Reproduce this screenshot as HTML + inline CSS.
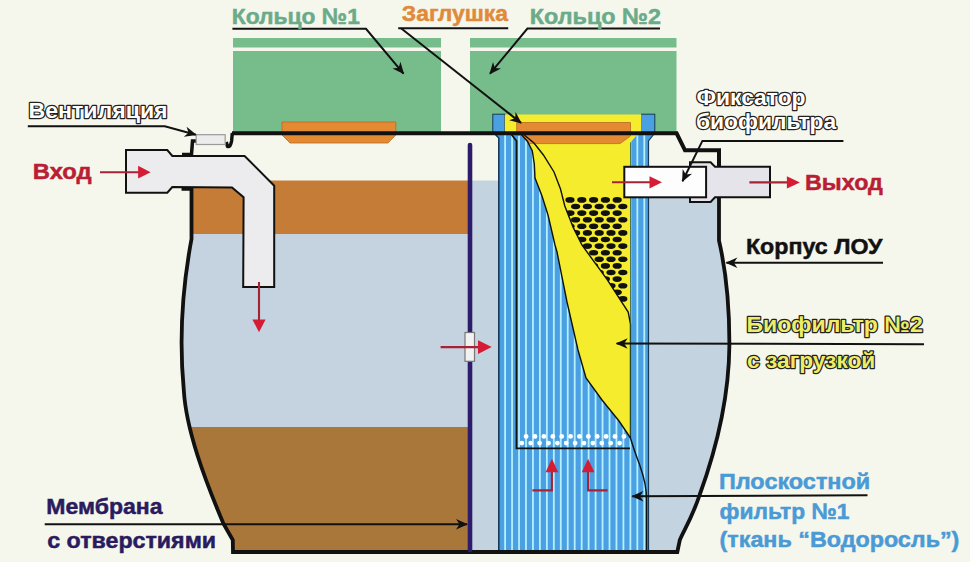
<!DOCTYPE html>
<html><head><meta charset="utf-8">
<style>
html,body{margin:0;padding:0;background:#f6f7ec;}
svg{display:block;}
text{font-family:"Liberation Sans",sans-serif;font-weight:bold;font-size:21.6px;}
</style></head>
<body>
<svg width="970" height="562" viewBox="0 0 970 562">
<defs>
  <clipPath id="tank"><path d="M232,133 L676.6,133 L685.5,150.3 L719,150.3 L719,240.6 C724,262 729.5,300 729.4,345 C729,400 716,450 699.6,495 C692,518 684,530 679.8,540 L677.3,552 L233,552 L232.8,540 L223.6,524 C205,480 186,430 183.8,390 C179,340 182,290 191.5,239 L191.5,141 L228,141 Z"/></clipPath>
  <clipPath id="dotclip"><path d="M557,180 L564.8,206 L573.3,227.6 L581.9,245 L607.2,279.6 L628.2,312 L630.5,324 L630.5,190 Z"/></clipPath>
  <marker id="ah" viewBox="-12 -6 14 12" markerWidth="14" markerHeight="12" refX="0" refY="0" orient="auto" markerUnits="userSpaceOnUse">
    <path d="M1,0 L-11,-5.2 L-7.5,0 L-11,5.2 Z" fill="#111"/>
  </marker>
</defs>
<rect x="0" y="0" width="970" height="562" fill="#f6f7ec"/>

<!-- green rings -->
<rect x="233" y="38" width="208" height="9.5" fill="#77bd8b"/>
<rect x="233" y="51" width="208" height="82" fill="#77bd8b"/>
<rect x="470" y="38" width="206.5" height="9.5" fill="#77bd8b"/>
<rect x="470" y="51" width="206.5" height="82" fill="#77bd8b"/>


<!-- interior fills -->
<g clip-path="url(#tank)">
  <rect x="150" y="130" width="600" height="430" fill="#f6f7ec"/>
  <rect x="150" y="180.5" width="320" height="53.5" fill="#c57c36"/>
  <rect x="150" y="234" width="320" height="193.5" fill="#c4d3df"/>
  <rect x="150" y="427" width="320" height="130" fill="#a9773a"/>
  <rect x="470" y="180.5" width="300" height="380" fill="#c3d3df"/>
</g>

<!-- ring1 plug -->
<path d="M282,122 L395.8,122 L395.8,135 L388,143 L290,143 L282,135 Z" fill="#e38a32" stroke="#b86a22" stroke-width="0.8"/>

<!-- blue filter -->
<path d="M494,133 L654.8,133 L648.5,141 L648.5,552 L498.8,552 L498.8,138 Z" fill="#4aa0e2"/>
<g fill="#b4f0ff">
<rect x="504.20" y="133" width="1.8" height="420"/>
<rect x="511.16" y="133" width="1.8" height="420"/>
<rect x="518.12" y="133" width="1.8" height="420"/>
<rect x="525.08" y="133" width="1.8" height="420"/>
<rect x="532.04" y="133" width="1.8" height="420"/>
<rect x="539.00" y="133" width="1.8" height="420"/>
<rect x="545.96" y="133" width="1.8" height="420"/>
<rect x="552.92" y="133" width="1.8" height="420"/>
<rect x="559.88" y="133" width="1.8" height="420"/>
<rect x="566.84" y="133" width="1.8" height="420"/>
<rect x="573.80" y="133" width="1.8" height="420"/>
<rect x="580.76" y="133" width="1.8" height="420"/>
<rect x="587.72" y="133" width="1.8" height="420"/>
<rect x="594.68" y="133" width="1.8" height="420"/>
<rect x="601.64" y="133" width="1.8" height="420"/>
<rect x="608.60" y="133" width="1.8" height="420"/>
<rect x="615.56" y="133" width="1.8" height="420"/>
<rect x="622.52" y="133" width="1.8" height="420"/>
<rect x="629.48" y="133" width="1.8" height="420"/>
<rect x="636.44" y="133" width="1.8" height="420"/>
<rect x="643.40" y="133" width="1.8" height="420"/>
</g>
<path d="M494,133 L498.8,138 L498.8,552" fill="none" stroke="#163a55" stroke-width="1.6"/>
<path d="M654.8,133 L648.5,141 L648.5,552" fill="none" stroke="#163a55" stroke-width="1.2"/>
<path d="M510.3,133 L516.5,141 L516.5,448.4 L630,448.4" fill="none" stroke="#111" stroke-width="1.8"/>

<!-- top of filter above line -->
<rect x="492.8" y="114.2" width="12" height="19" fill="#4aa0e2" stroke="#163a55" stroke-width="1"/>
<rect x="641.5" y="114.2" width="13.3" height="19" fill="#4aa0e2" stroke="#163a55" stroke-width="1"/>
<rect x="504.8" y="114.5" width="136.7" height="19" fill="#f4ec2c"/>

<!-- yellow biofilter -->
<path d="M521,134 L527.5,141.5 L532.3,151 L534.3,164 L535,178 L542,196 L548,215 L555,245 L557,252 L567,302 L578,350 L586,378 L602,400 L619,421 L630.5,438 L630.5,142.4 L638.6,133 Z" fill="#f4ec2c"/>
<!-- plug 2 -->
<path d="M516.7,122.5 L630.5,122.5 L630.5,136 L620,143.6 L529.5,143.6 L521.5,135.2 L516.7,135.2 Z" fill="#e38a32" stroke="#b86a22" stroke-width="0.8"/>
<path d="M521,134 L527.5,141.5 L532.3,151 L534.3,164 L535,178 L542,196 L548,215 L555,245 L557,252 L567,302 L578,350 L586,378 L602,400 L619,421 L630.5,438" fill="none" stroke="#111" stroke-width="1.4"/>
<path d="M523,134 L534,143 L543.4,155 L554,172 L560.5,189 L564.8,206 L573.3,227.6 L581.9,245 L607.2,279.6 L628.2,312 L630.5,324 L630.5,438 C633,447 636,455 640,466 C644,477 646.6,487 646.6,500 L646.6,552" fill="none" stroke="#111" stroke-width="1.4"/>
<path d="M630.5,142.4 L630.5,436" fill="none" stroke="#2a5a40" stroke-width="0.8"/>
<g fill="#111" clip-path="url(#dotclip)">
<ellipse cx="570.0" cy="199.9" rx="4.6" ry="2.8"/>
<ellipse cx="581.8" cy="199.9" rx="4.6" ry="2.8"/>
<ellipse cx="593.6" cy="199.9" rx="4.6" ry="2.8"/>
<ellipse cx="605.4" cy="199.9" rx="4.6" ry="2.8"/>
<ellipse cx="617.2" cy="199.9" rx="4.6" ry="2.8"/>
<ellipse cx="575.6" cy="206.5" rx="4.6" ry="2.8"/>
<ellipse cx="587.4" cy="206.5" rx="4.6" ry="2.8"/>
<ellipse cx="599.2" cy="206.5" rx="4.6" ry="2.8"/>
<ellipse cx="611.0" cy="206.5" rx="4.6" ry="2.8"/>
<ellipse cx="622.8" cy="206.5" rx="4.6" ry="2.8"/>
<ellipse cx="570.0" cy="213.1" rx="4.6" ry="2.8"/>
<ellipse cx="581.8" cy="213.1" rx="4.6" ry="2.8"/>
<ellipse cx="593.6" cy="213.1" rx="4.6" ry="2.8"/>
<ellipse cx="605.4" cy="213.1" rx="4.6" ry="2.8"/>
<ellipse cx="617.2" cy="213.1" rx="4.6" ry="2.8"/>
<ellipse cx="575.6" cy="219.7" rx="4.6" ry="2.8"/>
<ellipse cx="587.4" cy="219.7" rx="4.6" ry="2.8"/>
<ellipse cx="599.2" cy="219.7" rx="4.6" ry="2.8"/>
<ellipse cx="611.0" cy="219.7" rx="4.6" ry="2.8"/>
<ellipse cx="622.8" cy="219.7" rx="4.6" ry="2.8"/>
<ellipse cx="570.0" cy="226.3" rx="4.6" ry="2.8"/>
<ellipse cx="581.8" cy="226.3" rx="4.6" ry="2.8"/>
<ellipse cx="593.6" cy="226.3" rx="4.6" ry="2.8"/>
<ellipse cx="605.4" cy="226.3" rx="4.6" ry="2.8"/>
<ellipse cx="617.2" cy="226.3" rx="4.6" ry="2.8"/>
<ellipse cx="575.6" cy="232.9" rx="4.6" ry="2.8"/>
<ellipse cx="587.4" cy="232.9" rx="4.6" ry="2.8"/>
<ellipse cx="599.2" cy="232.9" rx="4.6" ry="2.8"/>
<ellipse cx="611.0" cy="232.9" rx="4.6" ry="2.8"/>
<ellipse cx="622.8" cy="232.9" rx="4.6" ry="2.8"/>
<ellipse cx="570.0" cy="239.5" rx="4.6" ry="2.8"/>
<ellipse cx="581.8" cy="239.5" rx="4.6" ry="2.8"/>
<ellipse cx="593.6" cy="239.5" rx="4.6" ry="2.8"/>
<ellipse cx="605.4" cy="239.5" rx="4.6" ry="2.8"/>
<ellipse cx="617.2" cy="239.5" rx="4.6" ry="2.8"/>
<ellipse cx="575.6" cy="246.1" rx="4.6" ry="2.8"/>
<ellipse cx="587.4" cy="246.1" rx="4.6" ry="2.8"/>
<ellipse cx="599.2" cy="246.1" rx="4.6" ry="2.8"/>
<ellipse cx="611.0" cy="246.1" rx="4.6" ry="2.8"/>
<ellipse cx="622.8" cy="246.1" rx="4.6" ry="2.8"/>
<ellipse cx="570.0" cy="252.7" rx="4.6" ry="2.8"/>
<ellipse cx="581.8" cy="252.7" rx="4.6" ry="2.8"/>
<ellipse cx="593.6" cy="252.7" rx="4.6" ry="2.8"/>
<ellipse cx="605.4" cy="252.7" rx="4.6" ry="2.8"/>
<ellipse cx="617.2" cy="252.7" rx="4.6" ry="2.8"/>
<ellipse cx="575.6" cy="259.3" rx="4.6" ry="2.8"/>
<ellipse cx="587.4" cy="259.3" rx="4.6" ry="2.8"/>
<ellipse cx="599.2" cy="259.3" rx="4.6" ry="2.8"/>
<ellipse cx="611.0" cy="259.3" rx="4.6" ry="2.8"/>
<ellipse cx="622.8" cy="259.3" rx="4.6" ry="2.8"/>
<ellipse cx="570.0" cy="265.9" rx="4.6" ry="2.8"/>
<ellipse cx="581.8" cy="265.9" rx="4.6" ry="2.8"/>
<ellipse cx="593.6" cy="265.9" rx="4.6" ry="2.8"/>
<ellipse cx="605.4" cy="265.9" rx="4.6" ry="2.8"/>
<ellipse cx="617.2" cy="265.9" rx="4.6" ry="2.8"/>
<ellipse cx="575.6" cy="272.5" rx="4.6" ry="2.8"/>
<ellipse cx="587.4" cy="272.5" rx="4.6" ry="2.8"/>
<ellipse cx="599.2" cy="272.5" rx="4.6" ry="2.8"/>
<ellipse cx="611.0" cy="272.5" rx="4.6" ry="2.8"/>
<ellipse cx="622.8" cy="272.5" rx="4.6" ry="2.8"/>
<ellipse cx="570.0" cy="279.1" rx="4.6" ry="2.8"/>
<ellipse cx="581.8" cy="279.1" rx="4.6" ry="2.8"/>
<ellipse cx="593.6" cy="279.1" rx="4.6" ry="2.8"/>
<ellipse cx="605.4" cy="279.1" rx="4.6" ry="2.8"/>
<ellipse cx="617.2" cy="279.1" rx="4.6" ry="2.8"/>
<ellipse cx="575.6" cy="285.7" rx="4.6" ry="2.8"/>
<ellipse cx="587.4" cy="285.7" rx="4.6" ry="2.8"/>
<ellipse cx="599.2" cy="285.7" rx="4.6" ry="2.8"/>
<ellipse cx="611.0" cy="285.7" rx="4.6" ry="2.8"/>
<ellipse cx="622.8" cy="285.7" rx="4.6" ry="2.8"/>
<ellipse cx="570.0" cy="292.3" rx="4.6" ry="2.8"/>
<ellipse cx="581.8" cy="292.3" rx="4.6" ry="2.8"/>
<ellipse cx="593.6" cy="292.3" rx="4.6" ry="2.8"/>
<ellipse cx="605.4" cy="292.3" rx="4.6" ry="2.8"/>
<ellipse cx="617.2" cy="292.3" rx="4.6" ry="2.8"/>
<ellipse cx="575.6" cy="298.9" rx="4.6" ry="2.8"/>
<ellipse cx="587.4" cy="298.9" rx="4.6" ry="2.8"/>
<ellipse cx="599.2" cy="298.9" rx="4.6" ry="2.8"/>
<ellipse cx="611.0" cy="298.9" rx="4.6" ry="2.8"/>
<ellipse cx="622.8" cy="298.9" rx="4.6" ry="2.8"/>
</g>
<g fill="#ffffff">
<circle cx="526.1" cy="436.4" r="2.4"/>
<circle cx="535.0" cy="436.4" r="2.4"/>
<circle cx="543.9" cy="436.4" r="2.4"/>
<circle cx="552.8" cy="436.4" r="2.4"/>
<circle cx="561.7" cy="436.4" r="2.4"/>
<circle cx="570.6" cy="436.4" r="2.4"/>
<circle cx="579.4" cy="436.4" r="2.4"/>
<circle cx="588.3" cy="436.4" r="2.4"/>
<circle cx="597.2" cy="436.4" r="2.4"/>
<circle cx="606.1" cy="436.4" r="2.4"/>
<circle cx="615.0" cy="436.4" r="2.4"/>
<circle cx="623.9" cy="436.4" r="2.4"/>
<circle cx="521.8" cy="443.1" r="2.4"/>
<circle cx="530.7" cy="443.1" r="2.4"/>
<circle cx="539.6" cy="443.1" r="2.4"/>
<circle cx="548.5" cy="443.1" r="2.4"/>
<circle cx="557.4" cy="443.1" r="2.4"/>
<circle cx="566.2" cy="443.1" r="2.4"/>
<circle cx="575.1" cy="443.1" r="2.4"/>
<circle cx="584.0" cy="443.1" r="2.4"/>
<circle cx="592.9" cy="443.1" r="2.4"/>
<circle cx="601.8" cy="443.1" r="2.4"/>
<circle cx="610.7" cy="443.1" r="2.4"/>
<circle cx="619.6" cy="443.1" r="2.4"/>
</g>


<!-- tank outline -->
<path d="M232,133.3 L676.6,133.3 L685,150.3 L719,150.3 L719,167" fill="none" stroke="#111" stroke-width="4" stroke-linejoin="miter"/>
<path d="M719,198 L719,240.6 C724,262 729.5,300 729.4,345 C729,400 716,450 699.6,495 C692,518 684,530 679.8,540 L677.3,552 L233,552 L232.8,540 L223.6,524 C205,480 186,430 183.8,390 C179,340 182,290 191.5,239 L191.5,187" fill="none" stroke="#111" stroke-width="3.8"/>
<path d="M182,154.5 L191.5,154.5 L192.5,141 L196.5,141" fill="none" stroke="#111" stroke-width="3.5"/>
<path d="M232.3,133 L231.6,141 Q230.5,147.5 227.5,146.5 L226.3,142" fill="none" stroke="#111" stroke-width="3.4" stroke-linejoin="round"/>
<path d="M181.5,189 L192,189" stroke="#111" stroke-width="3.5"/>

<!-- vent -->
<rect x="196.2" y="134.7" width="29" height="9.8" fill="#ececec" stroke="#9a9a9a" stroke-width="1.2"/>

<!-- inlet pipe -->
<path d="M126,150 L167.3,150 L172.3,156 L244.6,156 L274.2,185.7 L274.2,287 L243.2,287 L243.6,197.3 L232,187.4 L172.3,187 L167.3,192.7 L126,192.7 Z" fill="#ececee" stroke="#111" stroke-width="2" stroke-linejoin="miter"/>

<!-- outlet pipe -->
<path d="M690,162.2 L710.6,162.2 L715,166.8 L770,166.8 L770,197.3 L715,197.3 L710.6,201.9 L690,201.9 Z" fill="#e4e4ea" stroke="#111" stroke-width="2"/>
<rect x="624.3" y="166.8" width="81.8" height="30.5" fill="#fdfdfd" stroke="#111" stroke-width="2"/>

<!-- membrane -->
<line x1="470" y1="145" x2="470" y2="550" stroke="#2d1b6b" stroke-width="4.6" stroke-linecap="round"/>
<rect x="465" y="332.5" width="9.5" height="28.8" fill="#f2f2f2" stroke="#777" stroke-width="1.2"/>

<!-- red arrows -->
<g stroke="#a82236" stroke-width="2.1" fill="none">
  <line x1="100" y1="172.2" x2="140" y2="172.2"/>
  <line x1="259" y1="282" x2="259" y2="321"/>
  <line x1="440.6" y1="347.1" x2="480" y2="347.1"/>
  <line x1="612" y1="182.3" x2="652" y2="182.3"/>
  <line x1="749.4" y1="182.4" x2="788" y2="182.4"/>
  <path d="M532.4,490.4 L551.9,490.4 L551.9,471"/>
  <path d="M607.6,490.4 L588.1,490.4 L588.1,471"/>
</g>
<g fill="#d41c34">
  <path d="M150.6,172.2 L138.1,165.8 L138.1,178.6 Z"/>
  <path d="M259,332.3 L252.4,319.5 L265.6,319.5 Z"/>
  <path d="M491.7,347.1 L478,340.2 L478,354 Z"/>
  <path d="M662,182.3 L649.5,176.2 L649.5,188.4 Z"/>
  <path d="M799.9,182.4 L786.9,176.3 L786.9,188.5 Z"/>
  <path d="M551.9,458.8 L545.6,472.3 L558.2,472.3 Z"/>
  <path d="M588.1,458.8 L581.8,472.3 L594.4,472.3 Z"/>
</g>

<!-- leaders -->
<g stroke="#111" stroke-width="2" fill="none">
  <path d="M232.4,28.8 L366,28.8 L403.5,73.6" marker-end="url(#ah)"/>
  <path d="M398.2,28.2 L508.2,28.2"/>
  <path d="M401,28.2 L521,122.9" marker-end="url(#ah)"/>
  <path d="M660,28.5 L527.4,28.5 L490,73.7" marker-end="url(#ah)"/>
  <path d="M27.8,126.2 L164.8,126.2 L195.8,134.7" marker-end="url(#ah)"/>
  <path d="M843.4,140.9 L702.4,140.9 L682.5,181.2" marker-end="url(#ah)"/>
  <path d="M883,262.7 L726.4,262.7" marker-end="url(#ah)"/>
  <path d="M924,344.2 L616.7,343.4" marker-end="url(#ah)"/>
  <path d="M867.5,495.3 L632.4,496.3" marker-end="url(#ah)"/>
  <path d="M44.7,524.2 L467,524.2" marker-end="url(#ah)"/>
</g>

<!-- labels -->
<text transform="translate(231.79,23.5) scale(1.014,1)" style="font-size:22.5px" fill="#6aab8a" stroke="#6aab8a" stroke-width="0.5">Кольцо №1</text>
<text transform="translate(401.83,21.3) scale(1.04,1)" style="font-size:22.0px" fill="#e08a3a" stroke="#e08a3a" stroke-width="0.5">Заглушка</text>
<text transform="translate(529.85,23.5) scale(1.038,1)" style="font-size:22.5px" fill="#6aab8a" stroke="#6aab8a" stroke-width="0.5">Кольцо №2</text>
<text transform="translate(28.47,118.4) scale(1.023,1)" style="font-size:22.6px" fill="#fff" stroke="#222" stroke-width="2.5" stroke-linejoin="round" paint-order="stroke">Вентиляция</text>
<text transform="translate(32.82,178.5) scale(1.057,1)" style="font-size:22.5px" fill="#b91e34" stroke="#b91e34" stroke-width="0.5">Вход</text>
<text transform="translate(696.53,105.4) scale(1.024,1)" style="font-size:22.3px" fill="#fff" stroke="#222" stroke-width="2.5" stroke-linejoin="round" paint-order="stroke">Фиксатор</text>
<text transform="translate(695.96,128.5) scale(1.023,1)" style="font-size:22.3px" fill="#fff" stroke="#222" stroke-width="2.5" stroke-linejoin="round" paint-order="stroke">биофильтра</text>
<text transform="translate(805.05,189.9) scale(1.049,1)" style="font-size:22.2px" fill="#b91e34" stroke="#b91e34" stroke-width="0.5">Выход</text>
<text transform="translate(745.96,254.0) scale(1.036,1)" style="font-size:22.4px" fill="#111" stroke="#111" stroke-width="0.5">Корпус ЛОУ</text>
<text transform="translate(746.47,332.1) scale(1.035,1)" style="font-size:22.3px" fill="#eeed66" stroke="#222" stroke-width="2.5" stroke-linejoin="round" paint-order="stroke">Биофильтр №2</text>
<text transform="translate(747.06,368.09999999999997) scale(1.02,1)" style="font-size:22.3px" fill="#eeed66" stroke="#222" stroke-width="2.5" stroke-linejoin="round" paint-order="stroke">с загрузкой</text>
<text transform="translate(718.94,488.7) scale(1.047,1)" style="font-size:22.4px" fill="#4a9ad6" stroke="#4a9ad6" stroke-width="0.5">Плоскостной</text>
<text transform="translate(719.56,519.1) scale(1.009,1)" style="font-size:22.6px" fill="#4a9ad6" stroke="#4a9ad6" stroke-width="0.5">фильтр №1</text>
<text transform="translate(719.53,547.0) scale(1.032,1)" style="font-size:22.6px" fill="#4a9ad6" stroke="#4a9ad6" stroke-width="0.5">(ткань “Водоросль”)</text>
<text transform="translate(46.27,514.1) scale(1.033,1)" style="font-size:22.3px" fill="#2a1b60" stroke="#2a1b60" stroke-width="0.5">Мембрана</text>
<text transform="translate(47.24,547.6) scale(1.041,1)" style="font-size:22.3px" fill="#2a1b60" stroke="#2a1b60" stroke-width="0.5">с отверстиями</text>
</svg>
</body></html>
